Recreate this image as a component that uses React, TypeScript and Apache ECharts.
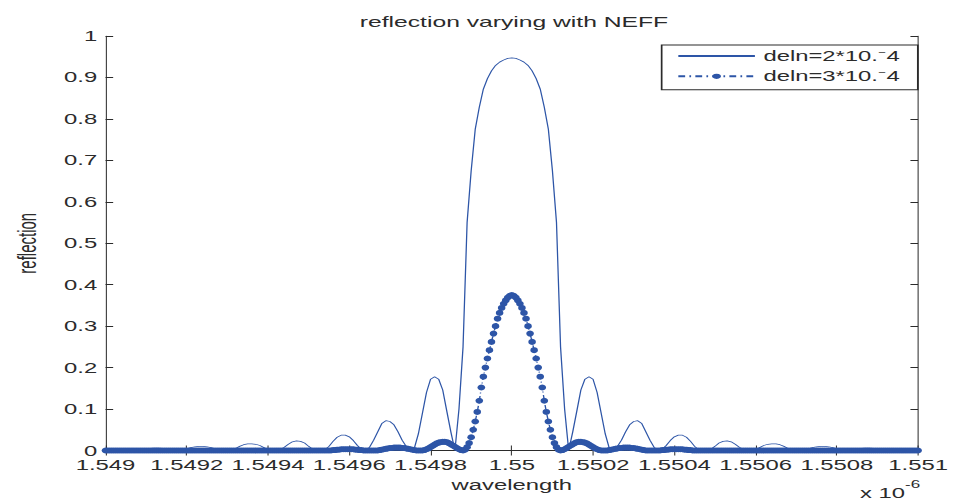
import React, { useEffect, useRef } from "react";
import * as echarts from "echarts";

// ---- layout of the page (the reference is a horizontally stretched MATLAB figure)
const OUT_W = 953;
const OUT_H = 500;
const IN_W = 560;
const STRETCH = OUT_W / IN_W;

// ---- axes
const X_MIN = 1.549;
const X_MAX = 1.551;
const X_INTERVAL = 0.0002;
const Y_MIN = 0;
const Y_MAX = 1;
const Y_INTERVAL = 0.1;

// ---- texts
const titleText = "reflection varying with NEFF";
const xName = "wavelength";
const yName = "reflection";
const xExponentBase = "x 10";
const xExponent = "-6";
const seriesNames = ["deln=2*10.\u207B4", "deln=3*10.\u207B4"];

// ---- sampling grids (x in units of 1e-6 m)
const STEP_DELN2 = 0.00001;
const STEP_DELN3 = 0.000005;

// reflection for deln = 2e-4, one value every STEP_DELN2 from X_MIN to X_MAX (201 values)
const reflDeln2 = [
  0, 0, 0, 0, 0, 0, 0, 0, 0, 0.001,
  0.003, 0.005, 0.006, 0.006, 0.005, 0.003, 0.001, 0, 0, 0.001,
  0.004, 0.007, 0.009, 0.01, 0.01, 0.009, 0.007, 0.004, 0.001, 0,
  0, 0.001, 0.005, 0.01, 0.014, 0.016, 0.016, 0.015, 0.012, 0.007,
  0.002, 0, 0, 0.002, 0.008, 0.015, 0.021, 0.023, 0.022, 0.018,
  0.01, 0.003, 0, 0, 0.002, 0.01, 0.022, 0.032, 0.037, 0.037,
  0.033, 0.024, 0.012, 0.003, 0, 0.008, 0.025, 0.045, 0.065, 0.072,
  0.07, 0.062, 0.045, 0.025, 0.01, 0, 0.005, 0.04, 0.09, 0.14,
  0.172, 0.178, 0.172, 0.146, 0.095, 0.045, 0, 0.1, 0.25, 0.55,
  0.675, 0.775, 0.828, 0.872, 0.897, 0.916, 0.929, 0.937, 0.942, 0.946,
  0.947,
  0.946, 0.942, 0.937, 0.929, 0.916, 0.897, 0.872, 0.828, 0.775, 0.675,
  0.55, 0.25, 0.1, 0, 0.045, 0.095, 0.146, 0.172, 0.178, 0.172,
  0.14, 0.09, 0.04, 0.005, 0, 0.01, 0.025, 0.045, 0.062, 0.07,
  0.072, 0.065, 0.045, 0.025, 0.008, 0, 0.003, 0.012, 0.024, 0.033,
  0.037, 0.037, 0.032, 0.022, 0.01, 0.002, 0, 0, 0.003, 0.01,
  0.018, 0.022, 0.023, 0.021, 0.015, 0.008, 0.002, 0, 0, 0.002,
  0.007, 0.012, 0.015, 0.016, 0.016, 0.014, 0.01, 0.005, 0.001, 0,
  0, 0.001, 0.004, 0.007, 0.009, 0.01, 0.01, 0.009, 0.007, 0.004,
  0.001, 0, 0, 0.001, 0.003, 0.005, 0.006, 0.006, 0.005, 0.003,
  0.001, 0, 0, 0, 0, 0, 0, 0, 0, 0,
];

// reflection for deln = 3e-4, one value every STEP_DELN3 from X_MIN to X_MAX (401 values)
const reflDeln3 = [
  0, 0, 0, 0, 0, 0, 0, 0, 0, 0,
  0, 0, 0, 0, 0, 0, 0, 0, 0, 0,
  0, 0, 0, 0, 0, 0, 0, 0, 0, 0,
  0, 0, 0, 0, 0, 0, 0, 0, 0, 0,
  0, 0, 0, 0, 0, 0, 0, 0, 0, 0,
  0, 0, 0, 0, 0, 0, 0, 0, 0, 0,
  0, 0, 0, 0, 0, 0, 0, 0, 0, 0,
  0, 0, 0, 0, 0, 0, 0, 0, 0, 0,
  0, 0, 0, 0, 0, 0, 0, 0, 0, 0,
  0, 0, 0, 0, 0, 0, 0, 0, 0, 0,
  0, 0, 0, 0, 0, 0, 0, 0, 0, 0,
  0,
  0, 0.001, 0.001, 0.002, 0.002, 0.003, 0.003, 0.003, 0.003, 0.003,
  0.003, 0.003, 0.002, 0.002, 0.001, 0.001, 0, 0, 0, 0,
  0, 0, 0, 0, 0.001, 0.002, 0.003, 0.004, 0.005, 0.006,
  0.006, 0.007, 0.007, 0.007, 0.007, 0.006, 0.006, 0.005, 0.004, 0.003,
  0.002, 0.001, 0, 0, 0, 0, 0.001, 0.003, 0.005, 0.008,
  0.011, 0.014, 0.017, 0.019, 0.02, 0.021, 0.021, 0.02, 0.018, 0.015,
  0.012, 0.009, 0.006, 0.003, 0.001, 0, 0.002, 0.008, 0.018, 0.032,
  0.05, 0.07, 0.093, 0.12, 0.152, 0.178, 0.2, 0.222, 0.242, 0.262,
  0.282, 0.3, 0.318, 0.332, 0.344, 0.354, 0.362, 0.369, 0.373,
  0.375,
  0.373, 0.369, 0.362, 0.354, 0.344, 0.332, 0.318, 0.3, 0.282,
  0.262, 0.242, 0.222, 0.2, 0.178, 0.152, 0.12, 0.093, 0.07, 0.05,
  0.032, 0.018, 0.008, 0.002, 0, 0.001, 0.003, 0.006, 0.009, 0.012,
  0.015, 0.018, 0.02, 0.021, 0.021, 0.02, 0.019, 0.017, 0.014, 0.011,
  0.008, 0.005, 0.003, 0.001, 0, 0, 0, 0, 0.001, 0.002,
  0.003, 0.004, 0.005, 0.006, 0.006, 0.007, 0.007, 0.007, 0.007, 0.006,
  0.006, 0.005, 0.004, 0.003, 0.002, 0.001, 0, 0, 0, 0,
  0, 0, 0, 0, 0.001, 0.001, 0.002, 0.002, 0.003, 0.003,
  0.003, 0.003, 0.003, 0.003, 0.003, 0.002, 0.002, 0.001, 0.001, 0,
  0,
  0, 0, 0, 0, 0, 0, 0, 0, 0, 0,
  0, 0, 0, 0, 0, 0, 0, 0, 0, 0,
  0, 0, 0, 0, 0, 0, 0, 0, 0, 0,
  0, 0, 0, 0, 0, 0, 0, 0, 0, 0,
  0, 0, 0, 0, 0, 0, 0, 0, 0, 0,
  0, 0, 0, 0, 0, 0, 0, 0, 0, 0,
  0, 0, 0, 0, 0, 0, 0, 0, 0, 0,
  0, 0, 0, 0, 0, 0, 0, 0, 0, 0,
  0, 0, 0, 0, 0, 0, 0, 0, 0, 0,
  0, 0, 0, 0, 0, 0, 0, 0, 0, 0,
  0, 0, 0, 0, 0, 0, 0, 0, 0, 0,
];

const FONT = "'Liberation Sans', Arial, Helvetica, sans-serif";
const INK = "#2b2b2b";
const BLUE = "#2d55a7";

export default function App() {
  const ref = useRef<HTMLDivElement>(null);

  useEffect(() => {
    const el = ref.current;
    if (!el) return;
    const chart = echarts.init(el, null, { renderer: "svg", width: IN_W, height: OUT_H });

    const deln2Data = reflDeln2.map((v, i) => [X_MIN + i * STEP_DELN2, v]);
    const deln3Data = reflDeln3.map((v, i) => [X_MIN + i * STEP_DELN3, v]);

    const labelFmt = (v: number) => String(parseFloat(v.toFixed(4)));

    const tickStyle = (w: number) => ({ color: INK, width: w });

    chart.setOption({
      animation: false,
      backgroundColor: "#ffffff",
      title: {
        text: titleText,
        left: 297,
        top: 9,
        textAlign: "center",
        textStyle: { fontFamily: FONT, fontSize: 14.5, fontWeight: "normal", color: INK },
      },
      grid: { left: 54.8, right: 17.45, top: 36, bottom: 49.5, containLabel: false },
      legend: {
        orient: "vertical",
        left: 388.8,
        top: 45,
        data: [
          { name: seriesNames[0], itemStyle: { opacity: 0 } },
          { name: seriesNames[1] },
        ],
        itemWidth: 45,
        itemHeight: 6.5,
        itemGap: 6.3,
        padding: [4, 10.6, 6.4, 8.8],
        borderColor: INK,
        borderWidth: 1,
        borderRadius: 0,
        backgroundColor: "#ffffff",
        selectedMode: false,
        textStyle: { fontFamily: FONT, fontSize: 14, color: INK, padding: [8, 0, 0, 0] },
      },
      xAxis: [
        {
          type: "value",
          position: "bottom",
          min: X_MIN,
          max: X_MAX,
          interval: X_INTERVAL,
          name: xName,
          nameLocation: "middle",
          nameGap: 27.7,
          nameTextStyle: { fontFamily: FONT, fontSize: 14, color: INK },
          axisLine: { show: true, lineStyle: tickStyle(1) },
          axisTick: { show: true, inside: true, length: 5, lineStyle: tickStyle(0.6) },
          axisLabel: { margin: 7, fontFamily: FONT, fontSize: 14, color: INK, formatter: labelFmt },
          splitLine: { show: false },
        },
        {
          type: "value",
          position: "top",
          min: X_MIN,
          max: X_MAX,
          interval: X_INTERVAL,
          axisLine: { show: true, lineStyle: tickStyle(1) },
          axisTick: { show: true, inside: true, length: 5, lineStyle: tickStyle(0.6) },
          axisLabel: { show: false },
          splitLine: { show: false },
        },
      ],
      yAxis: [
        {
          type: "value",
          position: "left",
          min: Y_MIN,
          max: Y_MAX,
          interval: Y_INTERVAL,
          name: yName,
          nameLocation: "middle",
          nameGap: 39,
          nameRotate: 90,
          nameTextStyle: { fontFamily: FONT, fontSize: 15, color: INK },
          axisLine: { show: true, lineStyle: tickStyle(0.6) },
          axisTick: { show: true, inside: true, length: 4.5, lineStyle: tickStyle(1) },
          axisLabel: { margin: 4.9, fontFamily: FONT, fontSize: 14, color: INK },
          splitLine: { show: false },
        },
        {
          type: "value",
          position: "right",
          min: Y_MIN,
          max: Y_MAX,
          interval: Y_INTERVAL,
          axisLine: { show: true, lineStyle: tickStyle(0.6) },
          axisTick: { show: true, inside: true, length: 4.5, lineStyle: tickStyle(1) },
          axisLabel: { show: false },
          splitLine: { show: false },
        },
      ],
      series: [
        {
          name: seriesNames[0],
          type: "line",
          xAxisIndex: 0,
          yAxisIndex: 0,
          data: deln2Data,
          symbol: "none",
          showSymbol: false,
          clip: false,
          silent: true,
          lineStyle: { color: BLUE, width: 0.75 },
          itemStyle: { color: BLUE },
        },
        {
          name: seriesNames[1],
          type: "line",
          xAxisIndex: 0,
          yAxisIndex: 0,
          data: deln3Data,
          symbol: "circle",
          symbolSize: [4.5, 6],
          showSymbol: true,
          clip: false,
          silent: true,
          lineStyle: { color: BLUE, width: 0.8, type: [4, 2.5, 1, 2.5] },
          itemStyle: { color: BLUE },
        },
      ],
      graphic: [
        {
          type: "text",
          x: 531.8,
          y: 493.4,
          style: {
            text: xExponentBase,
            align: "right",
            verticalAlign: "middle",
            fontFamily: FONT,
            fontSize: 14,
            fill: INK,
          },
        },
        {
          type: "text",
          x: 531.8,
          y: 484.5,
          style: {
            text: xExponent,
            align: "left",
            verticalAlign: "middle",
            fontFamily: FONT,
            fontSize: 10,
            fill: INK,
          },
        },
      ],
    });

    return () => chart.dispose();
  }, []);

  return (
    <div
      style={{
        position: "fixed",
        left: 0,
        top: 0,
        width: OUT_W,
        height: OUT_H,
        overflow: "hidden",
        background: "#ffffff",
      }}
    >
      <div
        ref={ref}
        style={{
          width: IN_W,
          height: OUT_H,
          transform: `scaleX(${STRETCH})`,
          transformOrigin: "0 0",
        }}
      />
    </div>
  );
}
